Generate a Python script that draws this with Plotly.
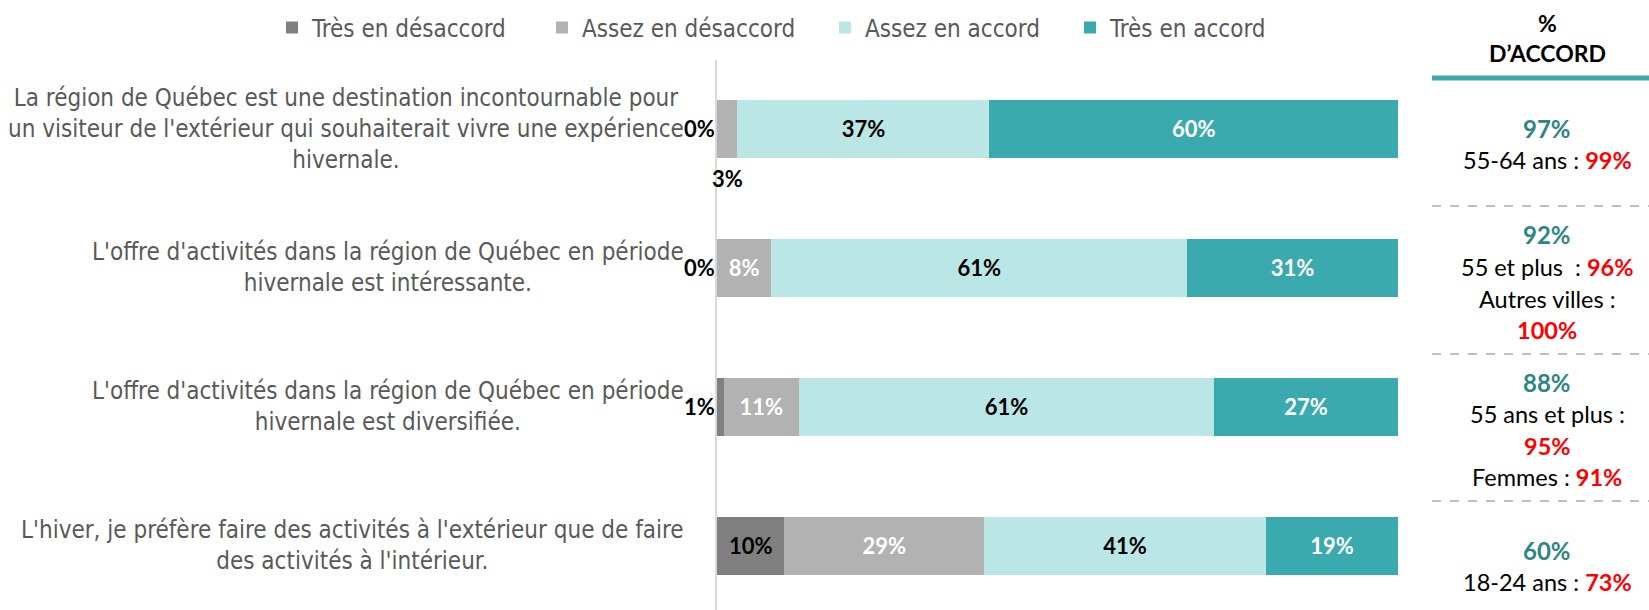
import plotly.graph_objects as go

# ---------------- data ----------------
row_ids = ["Q1", "Q2", "Q3", "Q4"]
statement_lines = [
    ["La région de Québec est une destination incontournable pour",
     "un visiteur de l'extérieur qui souhaiterait vivre une expérience",
     "hivernale."],
    ["L'offre d'activités dans la région de Québec en période",
     "hivernale est intéressante."],
    ["L'offre d'activités dans la région de Québec en période",
     "hivernale est diversifiée."],
    ["L'hiver, je préfère faire des activités à l'extérieur que de faire",
     "des activités à l'intérieur."],
]
series_names = ["Très en désaccord", "Assez en désaccord", "Assez en accord", "Très en accord"]
tres_desaccord = [0, 0, 1, 9.9]
assez_desaccord = [3, 8, 11, 29.3]
assez_accord = [37, 61, 61, 41.4]
tres_accord = [60, 31, 27, 19.4]

total_accord = [97, 92, 88, 60]
# (black text, red value) per line
subgroup_lines = [
    [("55-64 ans : ", "99%")],
    [("55 et plus  : ", "96%"), ("Autres villes :", ""), ("", "100%")],
    [("55 ans et plus :", ""), ("", "95%"), ("Femmes : ", "91%")],
    [("18-24 ans : ", "73%")],
]
panel_title = ["%", "D’ACCORD"]

# ---------------- style ----------------
series_colors = ["#808080", "#B2B2B2", "#BBE6E6", "#3BAAAE"]
label_colors = ["#000000", "#FFFFFF", "#000000", "#FFFFFF"]
legend_text_px = [312, 582, 865, 1110]   # left edge of each legend label (layout)
NARROW = "DejaVu Sans Condensed, DejaVu Sans, sans-serif"
BODY = "Lato, Open Sans, sans-serif"
GREY_TXT = "#595959"
TEAL_TXT = "#2E8585"
RED = "#FF0000"

W, H = 1649, 610
L, R, T, B = 717, 251, 60, 0
plot_w = W - L - R
plot_h = H - T - B


def px_to_paper_x(px):
    return (px - L) / plot_w


def px_to_paper_y(py):
    return (H - B - py) / plot_h


def pct(v):
    return f"{v:.0f}%"


series = [tres_desaccord, assez_desaccord, assez_accord, tres_accord]
SMALL = 3
legend_keys = ["legend", "legend2", "legend3", "legend4"]

fig = go.Figure()
for name, vals, col, lcol, lk in zip(series_names, series, series_colors, label_colors, legend_keys):
    fig.add_trace(go.Bar(
        y=row_ids, x=vals, name=name, orientation="h",
        marker=dict(color=col, line=dict(width=0)),
        text=[pct(v) if v > SMALL else "" for v in vals],
        textposition="inside", insidetextanchor="middle",
        insidetextfont=dict(family=BODY, size=22, color=lcol, weight="bold"),
        constraintext="none",
        hoverinfo="skip",
        legend=lk,
    ))

annotations = []
# statements (left)
for rid, lines in zip(row_ids, statement_lines):
    annotations.append(dict(
        x=0, xref="x", y=rid, yref="y", xanchor="right", yanchor="middle",
        xshift=-31, align="center", showarrow=False,
        text="<br>".join(lines),
        font=dict(family=NARROW, size=24, color=GREY_TXT),
    ))

# small values outside the bars
for i, rid in enumerate(row_ids):
    if tres_desaccord[i] <= SMALL:
        annotations.append(dict(
            x=0, xref="x", y=rid, yref="y", xanchor="right", yanchor="middle",
            showarrow=False, text=pct(tres_desaccord[i]),
            font=dict(family=BODY, size=22, color="#000000", weight="bold"),
        ))
    if assez_desaccord[i] <= SMALL:
        annotations.append(dict(
            x=tres_desaccord[i] + assez_desaccord[i] / 2, xref="x", y=rid, yref="y",
            xanchor="center", yanchor="middle", yshift=-50,
            showarrow=False, text=pct(assez_desaccord[i]),
            font=dict(family=BODY, size=22, color="#000000", weight="bold"),
        ))

# right panel
PANEL_CX = px_to_paper_x(1547)
annotations.append(dict(x=PANEL_CX, xref="paper", y=px_to_paper_y(23), yref="paper",
                        text=f"<b>{panel_title[0]}</b>", showarrow=False,
                        xanchor="center", yanchor="middle",
                        font=dict(family=BODY, size=23, color="#000000")))
annotations.append(dict(x=PANEL_CX, xref="paper", y=px_to_paper_y(53), yref="paper",
                        text=f"<b>{panel_title[1]}</b>", showarrow=False,
                        xanchor="center", yanchor="middle",
                        font=dict(family=BODY, size=23, color="#000000")))

line_y = [
    [128, 160],
    [234, 267, 299, 330],
    [382, 414, 446, 477],
    [550, 582],
]
for i in range(len(row_ids)):
    ys = line_y[i]
    annotations.append(dict(x=PANEL_CX, xref="paper", y=px_to_paper_y(ys[0]), yref="paper",
                            text=f"<b>{total_accord[i]}%</b>", showarrow=False,
                            xanchor="center", yanchor="middle",
                            font=dict(family=BODY, size=24, color=TEAL_TXT)))
    for (blk, red), yy in zip(subgroup_lines[i], ys[1:]):
        txt = blk.replace("  ", "&nbsp; ")
        if red:
            txt += f"<span style='color:{RED}'><b>{red}</b></span>"
        annotations.append(dict(x=PANEL_CX, xref="paper", y=px_to_paper_y(yy), yref="paper",
                                text=txt, showarrow=False, xanchor="center", yanchor="middle",
                                font=dict(family=BODY, size=23.5, color="#000000")))

shapes = [dict(type="line", xref="paper", yref="paper",
               x0=px_to_paper_x(1432), x1=px_to_paper_x(1649),
               y0=px_to_paper_y(78), y1=px_to_paper_y(78),
               line=dict(color="#3BAAAE", width=5))]
for yy in [206, 354, 501]:
    shapes.append(dict(type="line", xref="paper", yref="paper",
                       x0=px_to_paper_x(1432), x1=px_to_paper_x(1649),
                       y0=px_to_paper_y(yy), y1=px_to_paper_y(yy),
                       line=dict(color="#BFBFBF", width=2, dash="dash")))

legend_layouts = {}
for lk, tx in zip(legend_keys, legend_text_px):
    legend_layouts[lk] = dict(
        orientation="h", x=px_to_paper_x(tx - 40), xanchor="left",
        y=px_to_paper_y(28), yanchor="middle",
        font=dict(family=NARROW, size=24, color=GREY_TXT),
        itemclick=False, itemdoubleclick=False,
        bgcolor="rgba(0,0,0,0)",
    )

fig.update_layout(
    width=W, height=H,
    margin=dict(l=L, r=R, t=T, b=B, autoexpand=False),
    barmode="stack", bargap=0.583,
    plot_bgcolor="white", paper_bgcolor="white",
    xaxis=dict(range=[0, 100], visible=False, fixedrange=True),
    yaxis=dict(categoryorder="array", categoryarray=row_ids,
               range=[3.461, -0.496], fixedrange=True,
               showticklabels=False, showgrid=False, zeroline=False,
               showline=True, linecolor="#D9D9D9", linewidth=2, ticks=""),
    annotations=annotations,
    shapes=shapes,
    showlegend=True,
    **legend_layouts,
)

fig.write_html(
    "out.html",
    config={"displayModeBar": False, "staticPlot": True},
    post_script="document.body.style.margin='0';document.body.style.overflow='hidden';",
)
